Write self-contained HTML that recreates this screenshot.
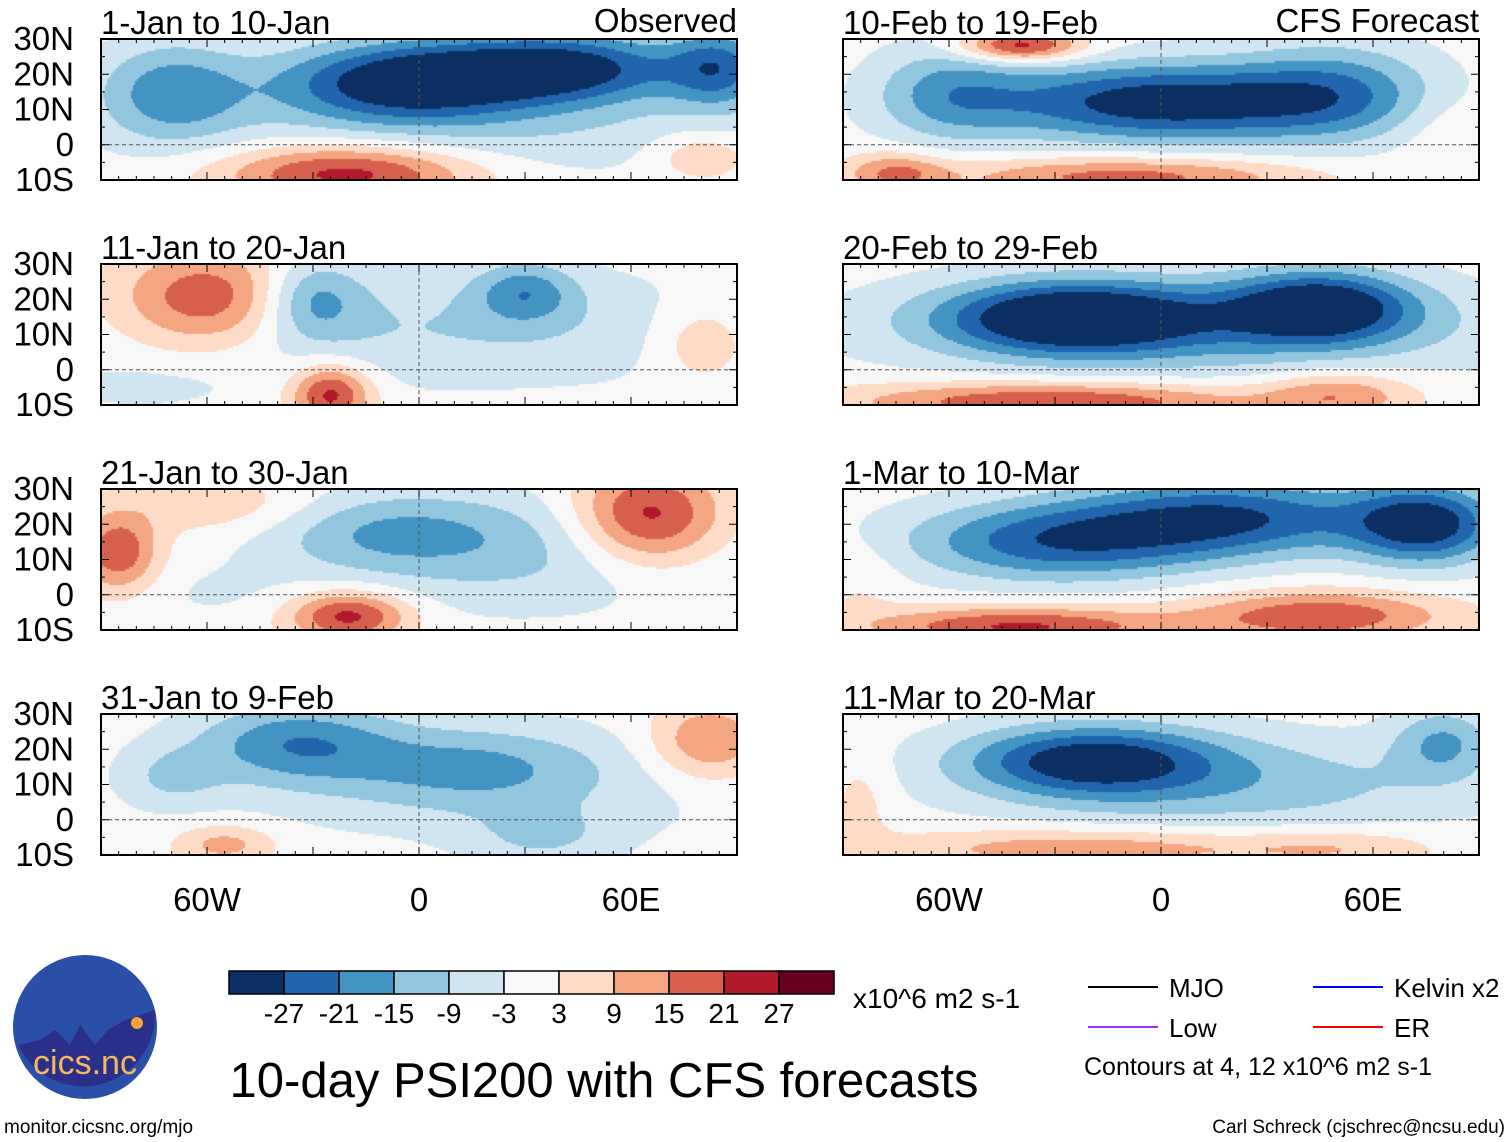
<!DOCTYPE html>
<html><head><meta charset="utf-8">
<style>
body{margin:0;background:#fff;width:1510px;height:1142px;overflow:hidden;position:relative;font-family:"Liberation Sans",sans-serif;color:#000}
canvas{position:absolute}
</style></head><body>
<svg id="svg" width="1510" height="1142" style="position:absolute;left:0;top:0"></svg>
<script>
// Field data: per panel, blobs [lon, lat, amplitude, sigmaLon, sigmaLat]
const panelTitles = ["1-Jan to 10-Jan","11-Jan to 20-Jan","21-Jan to 30-Jan","31-Jan to 9-Feb","10-Feb to 19-Feb","20-Feb to 29-Feb","1-Mar to 10-Mar","11-Mar to 20-Mar"];
const blobs0 = [[-5,18,-30,25,8],[40,22,-30,25,7],[-70,15,-18,15,10],[20,5,-8,60,10],[-20,-8,25,25,6],[80,-3,10,10,5],[85,22,-20,10,8]];
const blobs1 = [[-60,20,22,18,10],[-25,-7,24,8,6],[-30,20,-15,10,8],[10,12,-9,60,12],[30,22,-15,10,6],[80,8,10,10,8],[-80,-5,-4,20,5]];
const blobs2 = [[65,22,26,15,10],[-85,12,20,8,8],[-20,-6,24,12,5],[-10,18,-12,25,8],[30,12,-10,40,12],[-55,25,8,20,6],[-60,0,-3,20,6]];
const blobs3 = [[-35,22,-18,20,8],[15,15,-12,25,8],[35,-5,-8,15,6],[20,10,-6,60,12],[82,22,16,12,8],[-55,-7,12,10,4],[-70,12,-8,10,6]];
const blobs4 = [[0,12,-32,35,8],[-60,15,-14,15,10],[50,15,-16,20,10],[-10,-9,18,35,4],[-40,28,26,12,3],[-75,-8,15,10,4],[80,5,4,10,8]];
const blobs5 = [[-25,15,-32,25,7],[45,18,-30,18,7],[10,12,-15,60,10],[-30,-9,22,40,4],[50,-7,14,15,5]];
const blobs6 = [[-30,15,-24,30,8],[20,22,-26,30,8],[75,20,-30,15,8],[-40,-9,22,30,4],[45,-6,20,25,5],[-85,5,4,8,8]];
const blobs7 = [[-20,17,-28,25,7],[80,22,-14,10,7],[20,10,-12,50,10],[-20,-8,14,40,4],[50,-8,8,20,4],[-85,5,6,6,10]];
const panelBlobs = [blobs0,blobs1,blobs2,blobs3,blobs4,blobs5,blobs6,blobs7];
const levels = [-27,-21,-15,-9,-3,3,9,15,21,27];
const levelColors = ["#0c2f63","#2166ac","#4393c3","#92c5de","#d1e5f0","#f7f7f7","#fddbc7","#f4a582","#d6604d","#b2182b","#67001f"];
const xTicks = [-60,0,60];
const xTickLabels = ["60W","0","60E"];
const yTicks = [30,20,10,0,-10];
const yTickLabels = ["30N","20N","10N","0","10S"];

const NS="http://www.w3.org/2000/svg";
const svg=document.getElementById('svg');
const colX=[101,843], rowY=[39,264,489,714], PW=636, PH=141;
function xScale(col,lon){return colX[col]+(lon+90)/180*PW;}
function yScale(row,lat){return rowY[row]+(30-lat)/40*PH;}
function colorFor(v){let i=0;while(i<levels.length&&v>levels[i])i++;return levelColors[i];}
function el(tag,attrs,parent){const e=document.createElementNS(NS,tag);for(const k in attrs)e.setAttribute(k,attrs[k]);(parent||svg).appendChild(e);return e;}
function txt(x,y,s,size,anchor,name){const e=el('text',{x:x,y:y,'font-size':size,'text-anchor':anchor||'start','font-family':'Liberation Sans, sans-serif'});e.textContent=s;


return e;}

for(let p=0;p<8;p++){
  const col=p<4?0:1,row=p%4;
  const g=el('g',{});
  
  
  const cv=document.createElement('canvas');
  cv.width=PW;cv.height=PH;cv.style.left=colX[col]+'px';cv.style.top=rowY[row]+'px';
  
  
  document.body.insertBefore(cv,svg);
  const ctx=cv.getContext('2d');
  const step=2;
  for(let py=0;py<PH;py+=step){for(let px=0;px<PW;px+=step){
    const lon=-90+(px+1)/PW*180, lat=30-(py+1)/PH*40;
    let v=0;for(const b of panelBlobs[p]){const dx=(lon-b[0])/b[3],dy=(lat-b[1])/b[4];v+=b[2]*Math.exp(-0.5*(dx*dx+dy*dy));}
    ctx.fillStyle=colorFor(v);ctx.fillRect(px,py,step,step);
  }}
  el('line',{x1:xScale(col,-90),x2:xScale(col,90),y1:yScale(row,0),y2:yScale(row,0),stroke:'#555','stroke-dasharray':'4,3','stroke-width':1},g);
  el('line',{x1:xScale(col,0),x2:xScale(col,0),y1:yScale(row,30),y2:yScale(row,-10),stroke:'#555','stroke-dasharray':'4,3','stroke-width':1},g);
  el('rect',{x:colX[col],y:rowY[row],width:PW,height:PH,fill:'none',stroke:'#000','stroke-width':2},g);
  for(let lon=-90;lon<=90;lon+=5){const x=xScale(col,lon),L=lon%30===0?8:4;
    el('line',{x1:x,x2:x,y1:rowY[row],y2:rowY[row]+L,stroke:'#000','stroke-width':1},g);
    el('line',{x1:x,x2:x,y1:rowY[row]+PH,y2:rowY[row]+PH-L,stroke:'#000','stroke-width':1},g);}
  for(let lat=-10;lat<=30;lat+=5){const y=yScale(row,lat),L=lat%10===0?8:4;
    el('line',{x1:colX[col],x2:colX[col]+L,y1:y,y2:y,stroke:'#000','stroke-width':1},g);
    el('line',{x1:colX[col]+PW,x2:colX[col]+PW-L,y1:y,y2:y,stroke:'#000','stroke-width':1},g);}
  txt(colX[col],rowY[row]-5,panelTitles[p],33,'start','panel-title-'+(p+1));
  if(col===0){yTicks.forEach((t,i)=>txt(74,yScale(row,t)+11,yTickLabels[i],33,'end','y-tick-label'));}
}
txt(737,32,"Observed",33,'end','observed-label');
txt(1479,32,"CFS Forecast",33,'end','cfs-forecast-label');
for(let col=0;col<2;col++)xTicks.forEach((t,i)=>txt(xScale(col,t),911,xTickLabels[i],33,'middle','x-tick-label'));

const cbX=229,cbY=971,cbW=55,cbH=23;
const cb=el('g',{});
levelColors.forEach((c,i)=>el('rect',{x:cbX+i*cbW,y:cbY,width:cbW,height:cbH,fill:c,stroke:'#000','stroke-width':1.5},cb));
levels.forEach((l,i)=>txt(cbX+(i+1)*cbW,1023,String(l),28,'middle','colorbar-tick'));
txt(853,1008,"x10^6 m2 s-1",28,'start','colorbar-units');
txt(604,1097,"10-day PSI200 with CFS forecasts",49,'middle','figure-title');
const legend=[["MJO","#000",1088,987],["Low","#9b30ff",1088,1027],["Kelvin x2","#0000ff",1313,987],["ER","#ff0000",1313,1027]];
legend.forEach(l=>{el('line',{x1:l[2],x2:l[2]+70,y1:l[3],y2:l[3],stroke:l[1],'stroke-width':2});txt(l[2]+81,l[3]+10,l[0],26,'start','legend-entry');});
txt(1084,1075,"Contours at 4, 12 x10^6 m2 s-1",25,'start','contour-note');
txt(4,1133,"monitor.cicsnc.org/mjo",19,'start','footer-url');
txt(1505,1133,"Carl Schreck (cjschrec@ncsu.edu)",19,'end','footer-author');
const lg=el('g',{});
el('circle',{cx:85,cy:1027,r:72,fill:'#2a4fa8'},lg);
el('path',{d:'M18 1045 L40 1040 L55 1030 L70 1045 L80 1025 L95 1045 L108 1030 L125 1020 L155 1010 A72 72 0 0 1 18 1045 Z',fill:'#2a2f8a'},lg);
el('circle',{cx:137,cy:1023,r:6,fill:'#f6a33a'},lg);
const ct=txt(85,1074,"cics.nc",34,'middle','logo-text');ct.setAttribute('fill','#f4b860');
</script>
</body></html>
